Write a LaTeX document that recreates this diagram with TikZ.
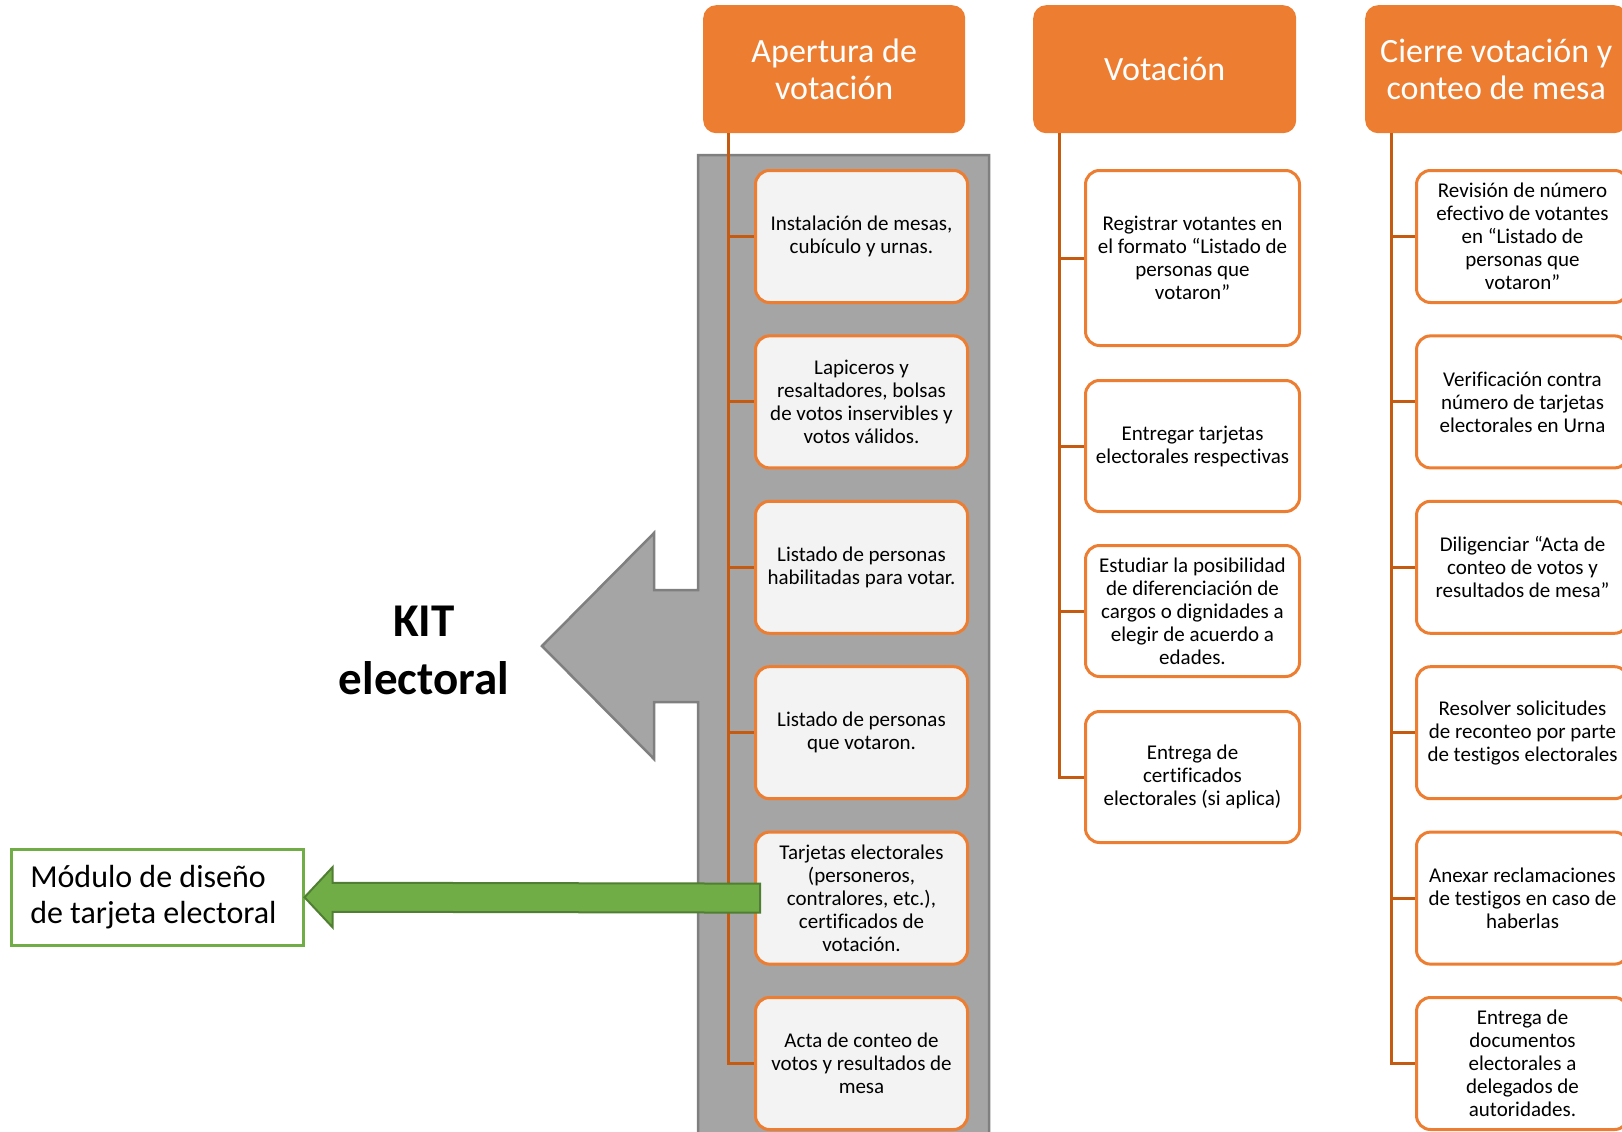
\documentclass[tikz,border=0pt]{standalone}
\usepackage{fontspec}
\setmainfont{Carlito}[Ligatures={NoCommon},Contextuals={NoAlternate}]
\usetikzlibrary{calc}
\definecolor{orng}{HTML}{ED7D31}
\definecolor{dorng}{HTML}{C55A11}
\definecolor{grayfill}{HTML}{A5A5A5}
\definecolor{grayline}{HTML}{7F7F7F}
\definecolor{grn}{HTML}{70AD47}
\definecolor{dgrn}{HTML}{507E32}
\definecolor{lgray}{HTML}{F3F3F3}
\begin{document}
\begin{tikzpicture}[x=1pt,y=-1pt,
 header/.style={fill=orng, draw=none, rounded corners=13pt, minimum width=262pt, minimum height=128pt, text=white, align=center, font=\fontsize{34}{37}\selectfont, inner sep=0pt, anchor=north west},
 child/.style={draw=orng, line width=3pt, fill=white, rounded corners=14pt, minimum width=212pt, minimum height=132pt, align=center, font=\fontsize{21}{23}\selectfont, inner sep=0pt, anchor=north west},
 graychild/.style={child, fill=lgray},
 conn/.style={draw=dorng, line width=3pt},
]
\useasboundingbox (0,0) rectangle (1622,1132);
\clip (0,0) rectangle (1622,1132);

% gray callout shape
\draw[fill=grayfill, draw=grayline, line width=2.5pt] (989,1145) -- (989,155) -- (698,155) -- (698,590) -- (654,590) -- (654,533) -- (542,646) -- (654,759) -- (654,702) -- (698,702) -- (698,1145) -- cycle;

% headers
\node[header] (hA) at (703,5) {Apertura de\\votación};
\node[header, minimum width=263pt] (hV) at (1033,5) {Votación};
\node[header] (hC) at (1365,5) {Cierre votación y\\conteo de mesa};

% Apertura children
\node[graychild] (a1) at (754,169) {Instalación de mesas,\\cubículo y urnas.};
\node[graychild] (a2) at (754,334.4) {Lapiceros y\\resaltadores, bolsas\\de votos inservibles y\\votos válidos.};
\node[graychild] (a3) at (754,499.8) {Listado de personas\\habilitadas para votar.};
\node[graychild] (a4) at (754,665.2) {Listado de personas\\que votaron.};
\node[graychild] (a5) at (754,830.6) {Tarjetas electorales\\(personeros,\\contralores, etc.),\\certificados de\\votación.};
\node[graychild] (a6) at (754,996) {Acta de conteo de\\votos y resultados de\\mesa};

% Votacion children
\node[child, minimum width=214pt, minimum height=175pt] (v1) at (1084,169) {Registrar votantes en\\el formato “Listado de\\personas que\\votaron”};
\node[child, minimum width=214pt, minimum height=131pt] (v2) at (1084,379) {Entregar tarjetas\\electorales respectivas};
\node[child, minimum width=214pt, minimum height=131pt] (v3) at (1084,544) {Estudiar la posibilidad\\de diferenciación de\\cargos o dignidades a\\elegir de acuerdo a\\edades.};
\node[child, minimum width=214pt, minimum height=131pt] (v4) at (1084,710) {Entrega de\\certificados\\electorales (si aplica)};

% Cierre children
\node[child] (c1) at (1415,169) {Revisión de número\\efectivo de votantes\\en “Listado de\\personas que\\votaron”};
\node[child] (c2) at (1415,334.4) {Verificación contra\\número de tarjetas\\electorales en Urna};
\node[child] (c3) at (1415,499.8) {Diligenciar “Acta de\\conteo de votos y\\resultados de mesa”};
\node[child] (c4) at (1415,665.2) {Resolver solicitudes\\de reconteo por parte\\de testigos electorales};
\node[child] (c5) at (1415,830.6) {Anexar reclamaciones\\de testigos en caso de\\haberlas};
\node[child] (c6) at (1415,996) {Entrega de\\documentos\\electorales a\\delegados de\\autoridades.};

% connectors
\foreach \n in {a1,a2,a3,a4,a5,a6}
  \draw[conn] ([xshift=25pt]hA.south west) |- (\n.west);
\foreach \n in {v1,v2,v3,v4}
  \draw[conn] ([xshift=26pt]hV.south west) |- (\n.west);
\foreach \n in {c1,c2,c3,c4,c5,c6}
  \draw[conn] ([xshift=26pt]hC.south west) |- (\n.west);

% KIT electoral
\node[font=\fontsize{47}{58}\selectfont\bfseries, align=center] (kit) at (424,650) {KIT\\electoral};

% Modulo box
\node[draw=grn, line width=2.5pt, fill=white, minimum height=96pt, anchor=north west, align=flush left, text width=254pt, inner xsep=19pt, inner ysep=0pt, font=\fontsize{32}{36}\selectfont] (mod) at (10,848) {Módulo de diseño\\de tarjeta electoral};

% green arrow
\draw[fill=grn, draw=dgrn, line width=2pt, line join=miter]
  ($(a5.west)+(6,-14.5)$) -- ($(mod.east)+(28,-14.5)$) -- ($(mod.east)+(28,-30)$) -- (mod.east)
  -- ($(mod.east)+(28,30)$) -- ($(mod.east)+(28,14.5)$) -- ($(a5.west)+(6,14.5)$) -- cycle;
\end{tikzpicture}
\end{document}
